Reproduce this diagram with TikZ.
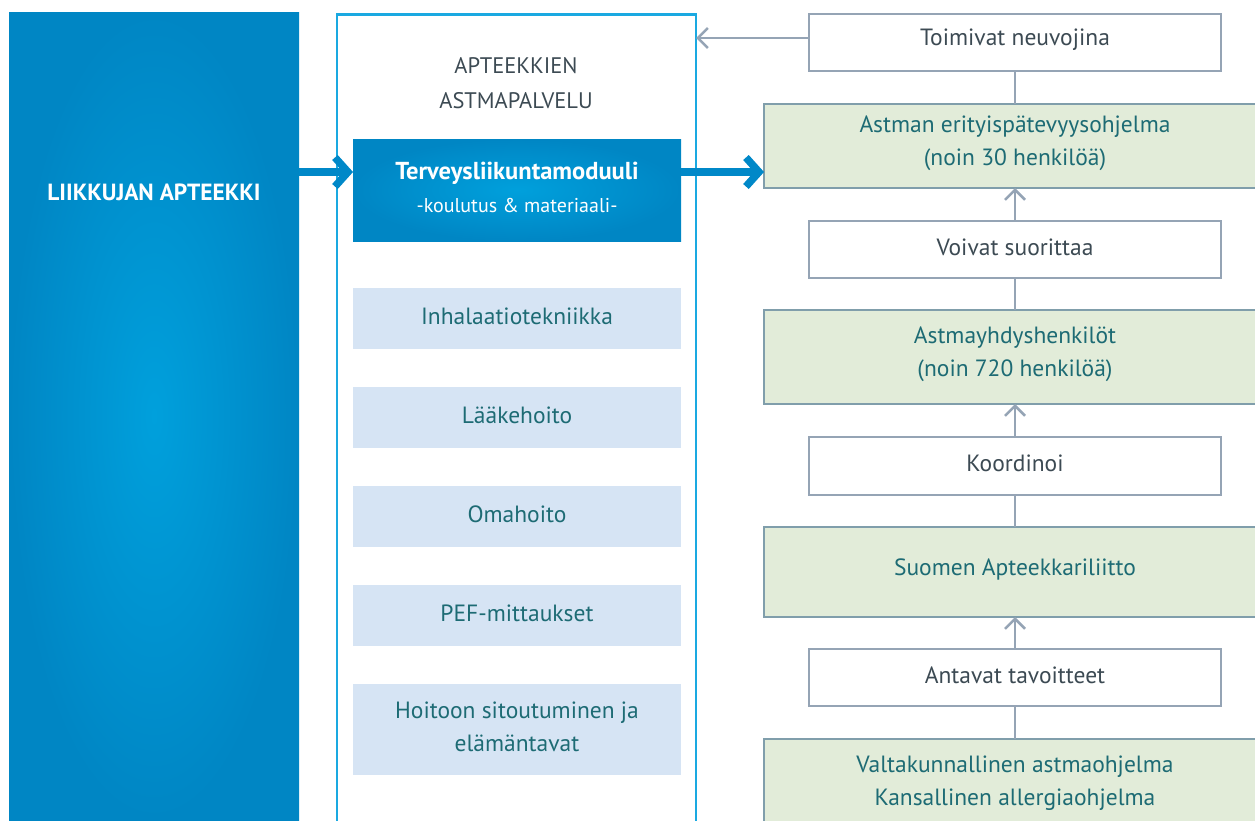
\documentclass[tikz,border=0pt]{standalone}
\usepackage{fontspec}
\setmainfont{PT Sans}
\usetikzlibrary{arrows.meta}
\definecolor{bluedark}{HTML}{0086C4}
\definecolor{bluelight}{HTML}{00A0DC}
\definecolor{framecol}{HTML}{1AA9E1}
\definecolor{bluearrow}{HTML}{0088C8}
\definecolor{grayln}{HTML}{95A4B5}
\definecolor{greenfill}{HTML}{E2ECD9}
\definecolor{greenbd}{HTML}{809EAB}
\definecolor{lightblue}{HTML}{D6E4F4}
\definecolor{tealtext}{HTML}{1D6B74}
\definecolor{darktext}{HTML}{3C4A53}
\newcommand{\upline}[1]{\raisebox{2.5pt}[\height][\depth]{#1}}
\tikzset{
  box/.style={inner sep=0pt, outer sep=0pt, align=center, font=\fontsize{23.5}{33}\selectfont},
  whitebox/.style={box, draw=grayln, line width=2.5pt, fill=white, text=darktext, minimum width=412pt},
  greenbox/.style={box, draw=greenbd, line width=2.5pt, fill=greenfill, text=tealtext, minimum width=502pt},
  lightbox/.style={box, fill=lightblue, text=tealtext, minimum width=328pt},
  link/.style={draw=grayln, line width=2.5pt},
  uparrow/.style={link, -{Straight Barb[length=10pt,width=20pt]}},
  bigarrow/.style={draw=bluearrow, line width=7.5pt, -{Straight Barb[length=13pt,width=29pt]}},
  framepath/.style={draw=framecol, line width=2.5pt}
}
\begin{document}
\begin{tikzpicture}[x=1pt,y=-1pt]
\useasboundingbox (0,0) rectangle (1255,820);
\clip (0,0) rectangle (1255,820);

% left box
\node[box, minimum width=290pt, minimum height=808pt, inner color=bluelight, outer color=bluedark, shade] (L) at (154,416) {};
\node[box, text=white, font=\fontsize{23.4}{28}\bfseries] (Ltxt) at (154,192) {LIIKKUJAN APTEEKKI};

% middle frame
\coordinate (fBL) at (337,824);
\coordinate (fTL) at (337,14.5);
\coordinate (fTR) at (696,14.5);
\coordinate (fBR) at (696,824);
\coordinate (frameR) at (696,38);
\draw[framepath] (fBL) -- (fTL) -- (fTR) -- (fBR);

\node[box, text=darktext, font=\fontsize{22.5}{35}\selectfont] (title) at (516,83) {APTEEKKIEN\\ASTMAPALVELU};

\node[box, minimum width=328pt, minimum height=102pt, inner color=bluelight, outer color=bluedark, shade, text=white] (T) at (517,190)
  {{\fontsize{24.5}{33}\bfseries \upline{Terveysliikuntamoduuli}}\\{\fontsize{20}{22}\selectfont \upline{-koulutus \& materiaali-}}};

\node[lightbox, minimum height=61pt] (B1) at (517,318.5) {\upline{Inhalaatiotekniikka}};
\node[lightbox, minimum height=61pt] (B2) at (517,417.5) {\upline{Lääkehoito}};
\node[lightbox, minimum height=61pt] (B3) at (517,516.5) {\upline{Omahoito}};
\node[lightbox, minimum height=61pt] (B4) at (517,615.5) {\upline{PEF-mittaukset}};
\node[lightbox, minimum height=91pt] (B5) at (517,729.5) {\upline{Hoitoon sitoutuminen ja}\\\upline{elämäntavat}};

% right column
\node[whitebox, minimum height=57pt] (W1) at (1015,42.5) {\upline{Toimivat neuvojina}};
\node[greenbox, minimum height=84pt] (G1) at (1015,146) {\upline{Astman erityispätevyysohjelma}\\\upline{(noin 30 henkilöä)}};
\node[whitebox, minimum height=57pt] (W2) at (1015,249.5) {\upline{Voivat suorittaa}};
\node[greenbox, minimum height=94pt] (G2) at (1015,357) {\upline{Astmayhdyshenkilöt}\\\upline{(noin 720 henkilöä)}};
\node[whitebox, minimum height=58pt] (W3) at (1015,466) {\upline{Koordinoi}};
\node[greenbox, minimum height=90pt] (G3) at (1015,572) {\upline{Suomen Apteekkariliitto}};
\node[whitebox, minimum height=57pt] (W4) at (1015,677.5) {\upline{Antavat tavoitteet}};
\node[greenbox, minimum height=88pt] (G4) at (1015,783) {Valtakunnallinen astmaohjelma\\Kansallinen allergiaohjelma};

% connectors
\draw[uparrow] (W1.west|-frameR) -- (frameR);
\draw[link] (W1.south) -- (G1.north);
\draw[uparrow] (W2.north) -- (G1.south);
\draw[link] (W2.south) -- (G2.north);
\draw[uparrow] (W3.north) -- (G2.south);
\draw[link] (W3.south) -- (G3.north);
\draw[uparrow] (W4.north) -- (G3.south);
\draw[link] (W4.south) -- (G4.north);

\coordinate (ay) at (0,172);
\draw[bigarrow] (L.east|-ay) -- (T.west|-ay);
\draw[bigarrow] (T.east|-ay) -- (G1.west|-ay);
\end{tikzpicture}
\end{document}
